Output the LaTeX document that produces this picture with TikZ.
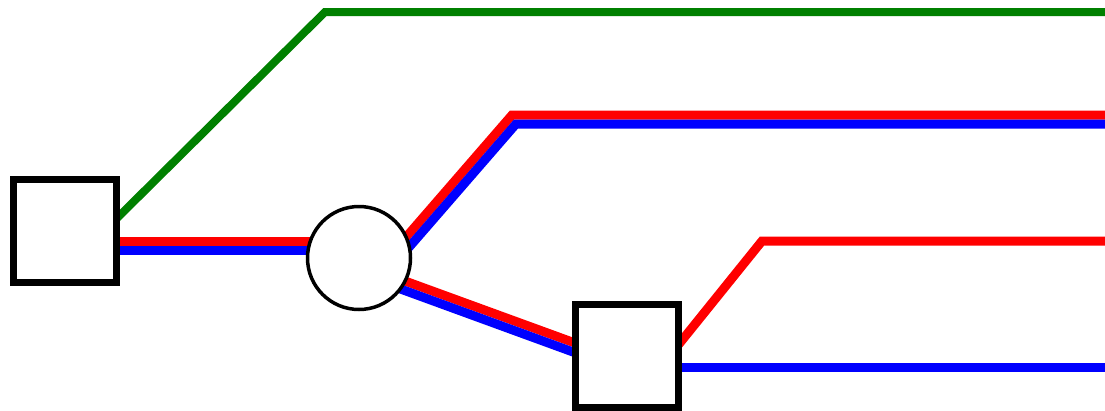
\documentclass[tikz,border=0pt]{standalone}
\usetikzlibrary{backgrounds}
\definecolor{lgreen}{RGB}{0,128,0}
\begin{document}
\begin{tikzpicture}[x=1pt,y=-1pt,
  boxnode/.style={draw=black,fill=white,line width=7pt,minimum width=103pt,minimum height=103pt,inner sep=0pt,rectangle},
  ringnode/.style={draw=black,fill=white,line width=3.5pt,minimum size=103pt,inner sep=0pt,circle},
  gline/.style={draw=lgreen,line width=8pt},
  rline/.style={draw=red,line width=9pt},
  bline/.style={draw=blue,line width=9pt}]
\useasboundingbox (0,0) rectangle (1105,410);
\node[boxnode] (sq1) at (65,231) {};
\node[ringnode] (circ) at (359,258) {};
\node[boxnode] (sq2) at (627,356) {};
\coordinate (gbend) at (325,12);
\coordinate (gend) at (1105,12);
\coordinate (rbend) at (512,115);
\coordinate (rend) at (1105,115);
\coordinate (bbend) at (516,124);
\coordinate (bend2) at (1105,124);
\coordinate (r2bend) at (762,241);
\coordinate (r2end) at (1105,241);
\coordinate (b2end) at (1105,367);
\begin{scope}[on background layer]
\draw[gline] ([xshift=35pt,yshift=-4pt]sq1.center) -- (gbend) -- (gend);
\draw[rline] ([yshift=-10pt]sq1.center) -- ([yshift=17pt]circ.center);
\draw[bline] ([yshift=-19pt]sq1.center) -- ([yshift=8pt]circ.center);
\draw[rline] ([xshift=35.9pt,yshift=8pt]circ.center) -- (rbend) -- (rend);
\draw[bline] ([xshift=40.7pt]circ.center) -- (bbend) -- (bend2);
\draw[rline] ([xshift=21pt,yshift=-13.9pt]circ.center) -- ([xshift=-37pt,yshift=7.5pt]sq2.center);
\draw[bline] ([xshift=21pt,yshift=-23.5pt]circ.center) -- ([xshift=-37pt,yshift=-2.2pt]sq2.center);
\draw[rline] ([xshift=33pt,yshift=-11.6pt]sq2.center) -- (r2bend) -- (r2end);
\draw[bline] ([yshift=-11pt]sq2.center) -- (b2end);
\end{scope}
\end{tikzpicture}
\end{document}
